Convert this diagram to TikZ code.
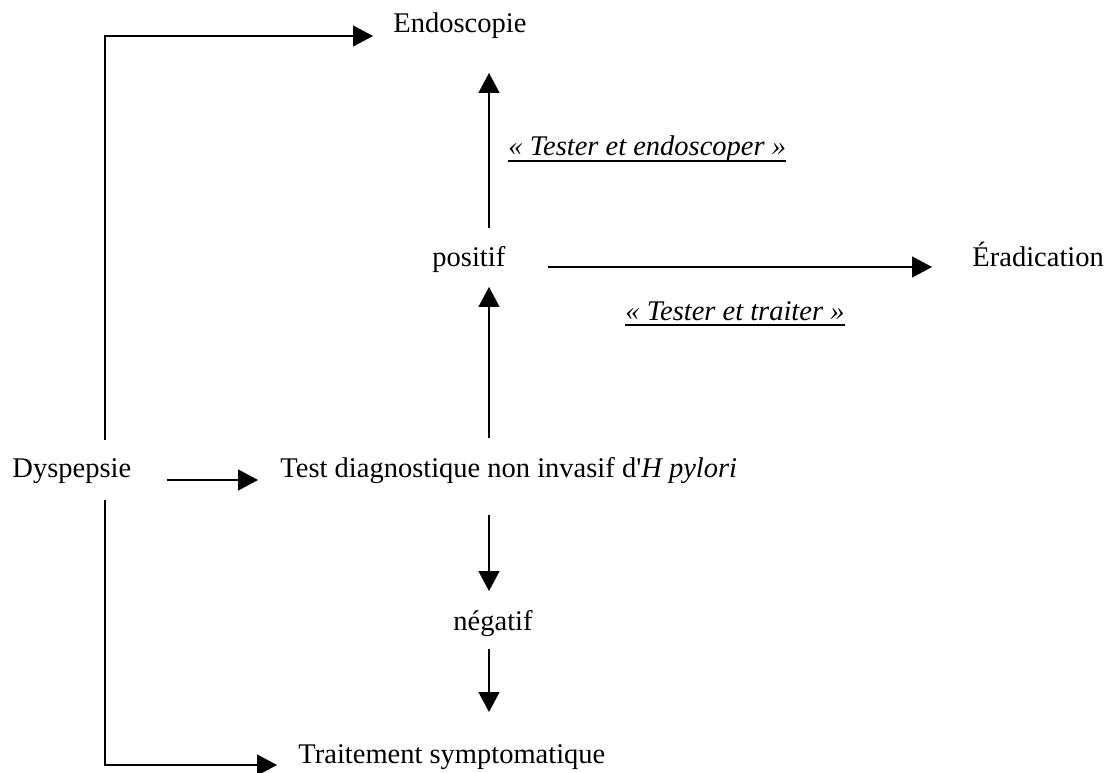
\documentclass[tikz,border=0pt]{standalone}
\usepackage{fontspec}
\setmainfont{Liberation Serif}
\usetikzlibrary{arrows.meta,calc}
\newsavebox\soulbox
\newcommand\souligne[1]{\sbox\soulbox{#1}\rlap{\rule[-2.6pt]{\wd\soulbox}{0.8pt}}\usebox\soulbox}
\tikzset{
  >={Triangle[length=8.4pt,width=8.8pt]},
  % textes
  txt/.style={inner sep=0pt,anchor=base west,font=\fontsize{12}{14}\selectfont},
  % fleches
  fl/.style={->,draw=black,line width=0.63pt},
}
\begin{document}
\begin{tikzpicture}[x=0.4211pt,y=-0.4211pt]
\useasboundingbox (0,0) rectangle (1108,773);
  \node[txt] (endo) at (393,33) {Endoscopie};
  \node[txt] (te) at (508,156) {\souligne{\itshape « Tester et endoscoper »}};
  \node[txt] (pos) at (432,266) {positif};
  \node[txt] (erad) at (972,266) {Éradication};
  \node[txt] (tt) at (625,320) {\souligne{\itshape « Tester et traiter »}};
  \node[txt] (dysp) at (12,477) {Dyspepsie};
  \node[txt] (test) at (280,477) {Test diagnostique non invasif d\textquotesingle\textit{H pylori}};
  \node[txt] (neg) at (453,630) {négatif};
  \node[txt] (trait) at (298,763) {Traitement symptomatique};
  \draw[fl] ($(dysp.base west)+(93,-37)$) |- ($(endo.base west)+(-20,3)$);
  \draw[fl] ($(dysp.base west)+(93,23)$) |- ($(trait.base west)+(-21,2)$);
  \draw[fl] ($(dysp.base east)+(35,3)$) -- ($(test.base west)+(-22,3)$);
  \draw[fl] ($(test.base west)+(209,-39)$) -- ($(pos.base west)+(57,21)$);
  \draw[fl] ($(pos.base west)+(57,-38)$) -- ($(endo.base west)+(96,40)$);
  \draw[fl] ($(pos.base east)+(42,1)$) -- ($(erad.base west)+(-40,1)$);
  \draw[fl] ($(test.base west)+(209,38)$) -- ($(neg.base west)+(36,-39)$);
  \draw[fl] ($(neg.base west)+(36,19)$) -- ($(trait.base west)+(191,-51)$);
\end{tikzpicture}
\end{document}
